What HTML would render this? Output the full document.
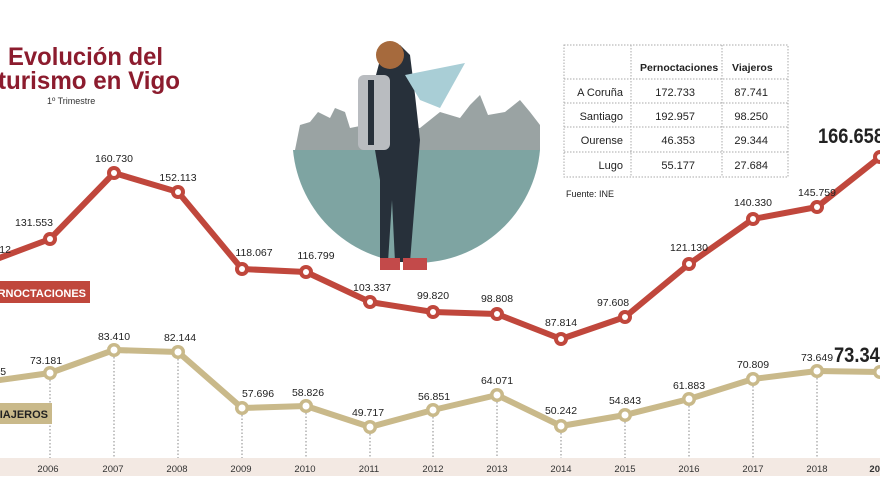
<!DOCTYPE html>
<html><head><meta charset="utf-8"><style>
html,body{margin:0;padding:0;background:#fff;}
svg{display:block;font-family:"Liberation Sans",sans-serif;}
</style></head><body>
<svg width="880" height="495" viewBox="0 0 880 495" xmlns="http://www.w3.org/2000/svg">
<rect width="880" height="495" fill="#fff"/>
<!-- title -->
<text x="8" y="65" font-size="25" font-weight="bold" fill="#8c1c2e" textLength="155" lengthAdjust="spacingAndGlyphs">Evolución del</text>
<text x="-2" y="89" font-size="25" font-weight="bold" fill="#8c1c2e" textLength="182" lengthAdjust="spacingAndGlyphs">turismo en Vigo</text>
<text x="47" y="104" font-size="9" fill="#333">1º Trimestre</text>
<!-- illustration -->
<path d="M293 150 L540 150 A124 124 0 0 1 293 150 Z" fill="#7ea4a2"/>
<path d="M295 150 L300 125 L310 122 L318 112 L330 118 L335 108 L345 112 L350 128 L365 125 L380 130 L420 128 L440 112 L460 118 L470 105 L480 95 L488 115 L505 112 L520 100 L530 112 L540 125 L540 150 Z" fill="#9aa3a3"/>
<path d="M372 90 L380 60 L400 45 L410 55 L415 95 L420 140 L415 200 L410 262 L395 262 L392 200 L388 262 L380 262 L380 180 L375 150 Z" fill="#27303a"/>
<rect x="358" y="75" width="32" height="75" rx="6" fill="#b9bcc0"/>
<rect x="368" y="80" width="6" height="65" fill="#27303a"/>
<circle cx="390" cy="55" r="14" fill="#a66a3d"/>
<path d="M405 75 L465 63 L440 108 L420 100 Z" fill="#a9ced6"/>
<rect x="380" y="258" width="20" height="12" fill="#c34a4a"/>
<rect x="403" y="258" width="24" height="12" fill="#c34a4a"/>
<!-- table -->
<g stroke="#aaa" stroke-dasharray="1.5,1.5" stroke-width="1" fill="none">
<rect x="564" y="45" width="224" height="132"/>
<line x1="631" y1="45" x2="631" y2="177"/>
<line x1="722" y1="45" x2="722" y2="177"/>
<line x1="564" y1="79" x2="788" y2="79"/>
<line x1="564" y1="103" x2="788" y2="103"/>
<line x1="564" y1="127" x2="788" y2="127"/>
<line x1="564" y1="152" x2="788" y2="152"/>
</g>
<g font-size="11" fill="#222">
<text x="640" y="71" font-weight="bold" font-size="10.5">Pernoctaciones</text>
<text x="732" y="71" font-weight="bold" font-size="10.5">Viajeros</text>
<g text-anchor="end">
<text x="623" y="96">A Coruña</text><text x="623" y="120">Santiago</text><text x="623" y="144">Ourense</text><text x="623" y="169">Lugo</text>
<text x="695" y="96">172.733</text><text x="695" y="120">192.957</text><text x="695" y="144">46.353</text><text x="695" y="169">55.177</text>
<text x="768" y="96">87.741</text><text x="768" y="120">98.250</text><text x="768" y="144">29.344</text><text x="768" y="169">27.684</text>
</g>
<text x="566" y="197" font-size="9">Fuente: INE</text>
</g>
<!-- axis band -->
<rect x="0" y="458" width="880" height="18" fill="#f3e9e3"/>
<g font-size="9.5" fill="#333" text-anchor="middle">
<text x="48" y="472">2006</text><text x="113" y="472">2007</text><text x="177" y="472">2008</text><text x="241" y="472">2009</text><text x="305" y="472">2010</text><text x="369" y="472">2011</text><text x="433" y="472">2012</text><text x="497" y="472">2013</text><text x="561" y="472">2014</text><text x="625" y="472">2015</text><text x="689" y="472">2016</text><text x="753" y="472">2017</text><text x="817" y="472">2018</text><text x="880" y="472" font-weight="bold">2019</text>
</g>
<!-- dotted drop lines -->
<g stroke="#888" stroke-dasharray="1.5,2" stroke-width="1">
<line x1="50" y1="373" x2="50" y2="458"/><line x1="114" y1="350" x2="114" y2="458"/><line x1="178" y1="352" x2="178" y2="458"/><line x1="242" y1="408" x2="242" y2="458"/><line x1="306" y1="406" x2="306" y2="458"/><line x1="370" y1="427" x2="370" y2="458"/><line x1="433" y1="410" x2="433" y2="458"/><line x1="497" y1="395" x2="497" y2="458"/><line x1="561" y1="426" x2="561" y2="458"/><line x1="625" y1="415" x2="625" y2="458"/><line x1="689" y1="399" x2="689" y2="458"/><line x1="753" y1="379" x2="753" y2="458"/><line x1="817" y1="371" x2="817" y2="458"/>
</g>
<!-- red series -->
<polyline points="-14,263 50,239 114,173 178,192 242,269 306,272 370,302 433,312 497,314 561,339 625,317 689,264 753,219 817,207 880,157" fill="none" stroke="#c0473c" stroke-width="6" stroke-linejoin="round"/>
<g fill="#c0473c"><circle cx="50" cy="239" r="7"/><circle cx="114" cy="173" r="7"/><circle cx="178" cy="192" r="7"/><circle cx="242" cy="269" r="7"/><circle cx="306" cy="272" r="7"/><circle cx="370" cy="302" r="7"/><circle cx="433" cy="312" r="7"/><circle cx="497" cy="314" r="7"/><circle cx="561" cy="339" r="7"/><circle cx="625" cy="317" r="7"/><circle cx="689" cy="264" r="7"/><circle cx="753" cy="219" r="7"/><circle cx="817" cy="207" r="7"/><circle cx="880" cy="157" r="7"/></g>
<g fill="#fff"><circle cx="50" cy="239" r="3"/><circle cx="114" cy="173" r="3"/><circle cx="178" cy="192" r="3"/><circle cx="242" cy="269" r="3"/><circle cx="306" cy="272" r="3"/><circle cx="370" cy="302" r="3"/><circle cx="433" cy="312" r="3"/><circle cx="497" cy="314" r="3"/><circle cx="561" cy="339" r="3"/><circle cx="625" cy="317" r="3"/><circle cx="689" cy="264" r="3"/><circle cx="753" cy="219" r="3"/><circle cx="817" cy="207" r="3"/><circle cx="880" cy="157" r="3"/></g>
<!-- beige series -->
<polyline points="-14,382 50,373 114,350 178,352 242,408 306,406 370,427 433,410 497,395 561,426 625,415 689,399 753,379 817,371 880,372" fill="none" stroke="#c9b98a" stroke-width="6" stroke-linejoin="round"/>
<g fill="#c9b98a"><circle cx="50" cy="373" r="7"/><circle cx="114" cy="350" r="7"/><circle cx="178" cy="352" r="7"/><circle cx="242" cy="408" r="7"/><circle cx="306" cy="406" r="7"/><circle cx="370" cy="427" r="7"/><circle cx="433" cy="410" r="7"/><circle cx="497" cy="395" r="7"/><circle cx="561" cy="426" r="7"/><circle cx="625" cy="415" r="7"/><circle cx="689" cy="399" r="7"/><circle cx="753" cy="379" r="7"/><circle cx="817" cy="371" r="7"/><circle cx="880" cy="372" r="7"/></g>
<g fill="#fff"><circle cx="50" cy="373" r="3.5"/><circle cx="114" cy="350" r="3.5"/><circle cx="178" cy="352" r="3.5"/><circle cx="242" cy="408" r="3.5"/><circle cx="306" cy="406" r="3.5"/><circle cx="370" cy="427" r="3.5"/><circle cx="433" cy="410" r="3.5"/><circle cx="497" cy="395" r="3.5"/><circle cx="561" cy="426" r="3.5"/><circle cx="625" cy="415" r="3.5"/><circle cx="689" cy="399" r="3.5"/><circle cx="753" cy="379" r="3.5"/><circle cx="817" cy="371" r="3.5"/><circle cx="880" cy="372" r="3.5"/></g>
<!-- red labels -->
<g font-size="10.5" fill="#222" text-anchor="middle">
<text x="-8" y="253">143.512</text><text x="34" y="226">131.553</text><text x="114" y="162">160.730</text><text x="178" y="181">152.113</text><text x="254" y="256">118.067</text><text x="316" y="259">116.799</text><text x="372" y="291">103.337</text><text x="433" y="299">99.820</text><text x="497" y="302">98.808</text><text x="561" y="326">87.814</text><text x="613" y="306">97.608</text><text x="689" y="251">121.130</text><text x="753" y="206">140.330</text><text x="817" y="196">145.759</text>
<text x="818" y="143" font-size="21" font-weight="bold" text-anchor="start" textLength="66" lengthAdjust="spacingAndGlyphs">166.658</text>
</g>
<!-- beige labels -->
<g font-size="10.5" fill="#222" text-anchor="middle">
<text x="-10" y="375">70.685</text><text x="46" y="364">73.181</text><text x="114" y="340">83.410</text><text x="180" y="341">82.144</text><text x="258" y="397">57.696</text><text x="308" y="396">58.826</text><text x="368" y="416">49.717</text><text x="434" y="400">56.851</text><text x="497" y="384">64.071</text><text x="561" y="414">50.242</text><text x="625" y="404">54.843</text><text x="689" y="389">61.883</text><text x="753" y="368">70.809</text><text x="817" y="361">73.649</text>
<text x="834" y="362" font-size="21" font-weight="bold" text-anchor="start" textLength="56" lengthAdjust="spacingAndGlyphs">73.345</text>
</g>
<!-- series labels -->
<rect x="0" y="281" width="90" height="22" fill="#c0473c"/>
<text x="86" y="297" font-size="11" font-weight="bold" fill="#fff" text-anchor="end">PERNOCTACIONES</text>
<rect x="0" y="403" width="52" height="21" fill="#c9b98a"/>
<text x="48" y="418" font-size="11" font-weight="bold" fill="#222" text-anchor="end">VIAJEROS</text>
</svg>
</body></html>
